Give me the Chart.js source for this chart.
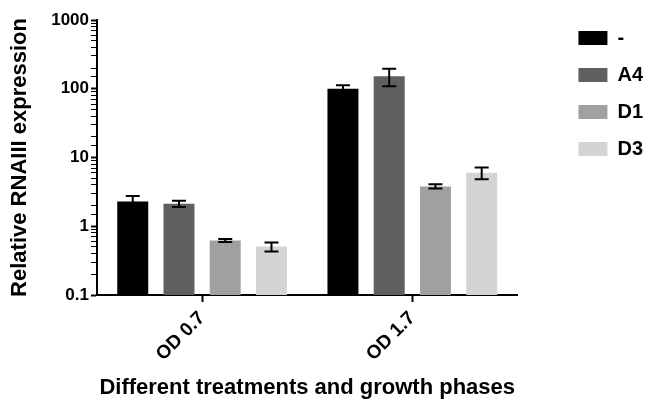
<!DOCTYPE html>
<html>
<head>
<meta charset="utf-8">
<script src="https://cdn.jsdelivr.net/npm/chart.js@4"></script>
<style>
  body { margin: 0; background: #fff; }
  #wrap { width: 653px; height: 401px; }
</style>
</head>
<body>
<div id="wrap"><canvas id="myChart" width="653" height="401"></canvas></div>
<script>
// data
const categories = ['OD 0.7', 'OD 1.7'];
const seriesNames = ['-', 'A4', 'D1', 'D3'];
const valNone = [2.3, 100];
const valA4 = [2.13, 152];
const valD1 = [0.62, 3.8];
const valD3 = [0.506, 5.98];
const errNone = [0.45, 12];
const errA4 = [0.22, 43];
const errD1 = [0.03, 0.27];
const errD3 = [0.076, 1.15];
const yTickLabels = [0.1, 1, 10, 100, 1000];

const colors = ['#000000', '#606060', '#a0a0a0', '#d4d4d4'];
const values = [valNone, valA4, valD1, valD3];
const errors = [errNone, errA4, errD1, errD3];

const font = '"Liberation Sans", Arial, sans-serif';
const isDecade = v => yTickLabels.some(t => Math.abs(t - v) < 1e-9);

// draws the +/- error bars using the y scale
const errorBars = {
  id: 'errorBars',
  afterDatasetsDraw(chart) {
    const ctx = chart.ctx;
    const y = chart.scales.y;
    ctx.save();
    ctx.strokeStyle = '#000';
    ctx.lineWidth = 2;
    chart.data.datasets.forEach((ds, i) => {
      const meta = chart.getDatasetMeta(i);
      meta.data.forEach((bar, j) => {
        const v = ds.data[j], e = ds.err[j];
        const top = y.getPixelForValue(v + e);
        const bot = y.getPixelForValue(v - e);
        const x = bar.x, w = 7;
        ctx.beginPath();
        ctx.moveTo(x, top); ctx.lineTo(x, bot);
        ctx.moveTo(x - w, top); ctx.lineTo(x + w, top);
        ctx.moveTo(x - w, bot); ctx.lineTo(x + w, bot);
        ctx.stroke();
      });
    });
    ctx.restore();
  }
};

var ctx = document.getElementById('myChart').getContext('2d');
var myChart = new Chart(ctx, {
  type: 'bar',
  data: {
    labels: categories,
    datasets: seriesNames.map((name, i) => ({
      label: name,
      data: values[i],
      err: errors[i],
      backgroundColor: colors[i],
      borderWidth: 0,
      barPercentage: 0.67,
      categoryPercentage: 0.88
    }))
  },
  options: {
    responsive: false,
    animation: false,
    layout: { padding: { top: 11, left: 4, bottom: 0, right: 0 } },
    plugins: {
      tooltip: { enabled: false },
      legend: {
        position: 'right',
        align: 'start',
        labels: {
          boxWidth: 29,
          boxHeight: 14,
          padding: 17,
          color: '#000',
          font: { family: font, size: 20, weight: 'bold' }
        }
      }
    },
    scales: {
      x: {
        offset: true,
        border: { display: true, color: '#000', width: 2 },
        grid: {
          display: true,
          offset: false,
          drawOnChartArea: false,
          drawTicks: true,
          tickLength: 7,
          tickWidth: 2,
          tickColor: '#000'
        },
        ticks: {
          color: '#000',
          minRotation: 45,
          maxRotation: 45,
          padding: 5,
          font: { family: font, size: 19, weight: 'bold' }
        },
        title: {
          display: true,
          text: 'Different treatments and growth phases',
          color: '#000',
          padding: { top: 0, bottom: 0 },
          font: { family: font, size: 22, weight: 'bold' }
        },
        afterFit: s => { s.height = 106; }
      },
      y: {
        type: 'logarithmic',
        min: 0.1,
        max: 1000,
        border: { display: true, color: '#000', width: 2 },
        grid: {
          display: true,
          drawOnChartArea: false,
          drawTicks: true,
          tickLength: 6,
          tickColor: '#000',
          tickWidth: c => (c.tick && isDecade(c.tick.value)) ? 2 : 1
        },
        ticks: {
          autoSkip: false,
          color: '#000',
          padding: 2,
          font: { family: font, size: 17, weight: 'bold' },
          callback: v => isDecade(v) ? String(v) : ''
        },
        title: {
          display: true,
          text: 'Relative RNAIII expression',
          color: '#000',
          padding: { top: 3, bottom: 4 },
          font: { family: font, size: 22, weight: 'bold' }
        },
        afterFit: s => { s.width = 93; s.paddingTop = 20; }
      },
      pad: {
        type: 'linear',
        position: 'right',
        display: true,
        grid: { display: false },
        border: { display: false },
        ticks: { display: false },
        afterFit: s => { s.width = 44; }
      }
    }
  },
  plugins: [errorBars]
});
</script>
</body>
</html>
